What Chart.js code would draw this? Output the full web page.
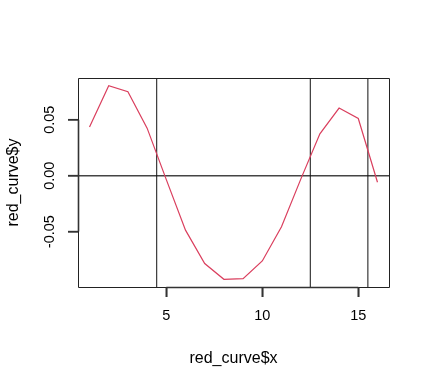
<!DOCTYPE html>
<html>
<head>
<meta charset="utf-8">
<script src="https://cdn.jsdelivr.net/npm/chart.js@4.4.1/dist/chart.umd.min.js"></script>
<style>
  html, body { margin: 0; padding: 0; background: #fff; }
  #wrap { width: 430px; height: 385px; }
</style>
</head>
<body>
<div id="wrap"><canvas id="c" width="430" height="385"></canvas></div>
<script>
// ---- data ----
const xValues = [1, 2, 3, 4, 5, 6, 7, 8, 9, 10, 11, 12, 13, 14, 15, 16];
const yValues = [0.0434, 0.0804, 0.0750, 0.0425, -0.0035, -0.0487, -0.0785, -0.0926,
                 -0.0920, -0.0762, -0.0457, -0.0033, 0.0374, 0.0604, 0.0511, -0.0059];
const vLines = [4.5, 12.5, 15.5];   // abline(v = ...)
const hLines = [0];                 // abline(h = 0)
const xTicks = [5, 10, 15];
const yTicks = [-0.05, 0, 0.05];
const xTitle = 'red_curve$x';
const yTitle = 'red_curve$y';

// R-style axis limits (data range extended by 4%)
const xMin = 0.4, xMax = 16.6;
const yMin = -0.0995, yMax = 0.0873;

const curve = xValues.map((x, i) => ({ x: x, y: yValues[i] }));

const datasets = [{
  data: curve,
  borderColor: '#DA3F5E',
  borderWidth: 1.2,
  pointRadius: 0,
  tension: 0,
  order: 0
}];
vLines.forEach(v => datasets.push({
  data: [{ x: v, y: yMin }, { x: v, y: yMax }],
  borderColor: '#111',
  borderWidth: 1,
  pointRadius: 0,
  order: 1
}));
hLines.forEach(h => datasets.push({
  data: [{ x: xMin, y: h }, { x: xMax, y: h }],
  borderColor: '#444',
  borderWidth: 1.4,
  pointRadius: 0,
  order: 1
}));

const TICK_LEN = 10;
const boxPlugin = {
  id: 'box',
  afterDraw(chart) {
    const ctx = chart.ctx;
    const a = chart.chartArea;
    const xs = chart.scales.x, ys = chart.scales.y;
    ctx.save();
    ctx.setLineDash([]);
    ctx.strokeStyle = '#222';
    ctx.lineWidth = 1;
    ctx.beginPath();
    ctx.rect(a.left + 0.5, a.top + 0.5, a.right - a.left, a.bottom - a.top);
    ctx.stroke();
    // R axis lines (first to last tick)
    ctx.lineWidth = 1.6;
    ctx.strokeStyle = '#333';
    ctx.beginPath();
    ctx.moveTo(xs.getPixelForValue(xTicks[0]), a.bottom + 0.5);
    ctx.lineTo(xs.getPixelForValue(xTicks[xTicks.length - 1]), a.bottom + 0.5);
    ctx.moveTo(a.left + 0.5, ys.getPixelForValue(yTicks[0]));
    ctx.lineTo(a.left + 0.5, ys.getPixelForValue(yTicks[yTicks.length - 1]));
    ctx.stroke();
    // tick marks
    ctx.lineWidth = 1.6;
    ctx.strokeStyle = '#333';
    for (const v of xTicks) {
      const px = xs.getPixelForValue(v);
      ctx.beginPath();
      ctx.moveTo(px, a.bottom);
      ctx.lineTo(px, a.bottom + TICK_LEN);
      ctx.stroke();
    }
    for (const v of yTicks) {
      const py = ys.getPixelForValue(v);
      ctx.beginPath();
      ctx.moveTo(a.left, py);
      ctx.lineTo(a.left - TICK_LEN, py);
      ctx.stroke();
    }
    ctx.restore();
  }
};

const tickFont = { family: '"Liberation Sans", Arial, sans-serif', size: 14.5 };
const titleFont = { family: '"Liberation Sans", Arial, sans-serif', size: 16 };

new Chart(document.getElementById('c'), {
  type: 'line',
  data: { datasets: datasets },
  options: {
    responsive: false,
    animation: false,
    events: [],
    layout: { padding: { left: 0, top: 78, right: 41, bottom: 0 } },
    plugins: { legend: { display: false }, tooltip: { enabled: false } },
    scales: {
      x: {
        type: 'linear',
        min: xMin, max: xMax,
        afterBuildTicks: s => { s.ticks = xTicks.map(v => ({ value: v })); },
        afterFit: s => { s.height = 98; },
        ticks: { font: tickFont, color: '#000', padding: 10, maxRotation: 0, minRotation: 0,
                 callback: v => String(v) },
        grid: { display: true, drawOnChartArea: false, drawTicks: true, tickLength: TICK_LEN,
                color: '#333', lineWidth: 1.5 },
        border: { display: false },
        title: { display: true, text: xTitle, font: titleFont, color: '#000',
                 padding: { top: 0, bottom: 17 } }
      },
      y: {
        type: 'linear',
        min: yMin, max: yMax,
        afterBuildTicks: s => { s.ticks = yTicks.map(v => ({ value: v })); },
        afterFit: s => { s.width = 78; },
        ticks: { font: tickFont, color: '#000', padding: 1.5, minRotation: 90, maxRotation: 90,
                 crossAlign: 'center', callback: v => Number(v).toFixed(2) },
        grid: { display: true, drawOnChartArea: false, drawTicks: true, tickLength: TICK_LEN,
                color: '#333', lineWidth: 1.5 },
        border: { display: false },
        title: { display: true, text: yTitle, font: titleFont, color: '#000',
                 padding: { top: 4, bottom: 0 } }
      }
    }
  },
  plugins: [boxPlugin]
});
</script>
</body>
</html>
